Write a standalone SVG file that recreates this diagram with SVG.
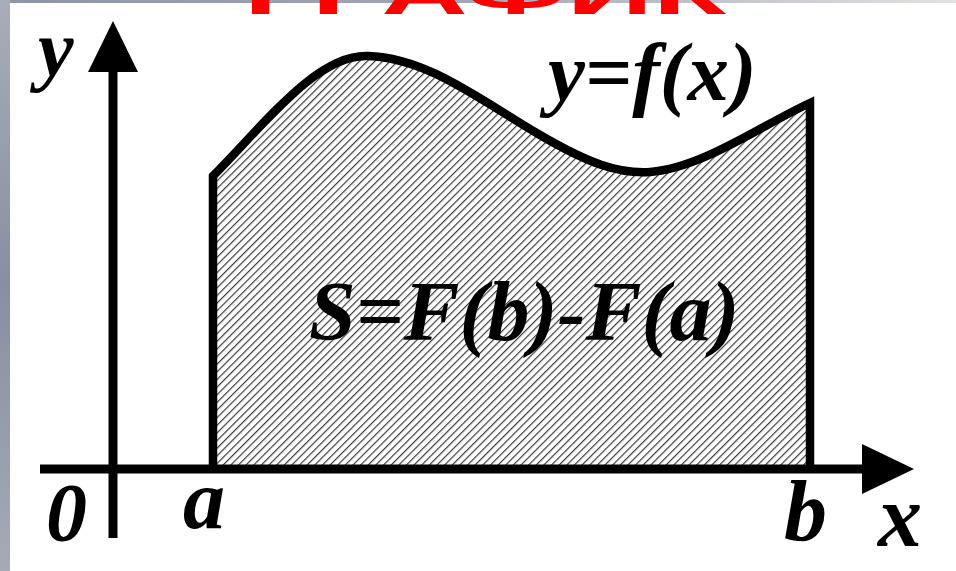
<svg xmlns="http://www.w3.org/2000/svg" width="956" height="571" viewBox="0 0 956 571">
  <defs>
    <linearGradient id="topband" x1="0" y1="0" x2="1" y2="0">
      <stop offset="0" stop-color="#8c94a6"/>
      <stop offset="0.5" stop-color="#a3a8b6"/>
      <stop offset="1" stop-color="#e2e2e4"/>
    </linearGradient>
    <linearGradient id="leftband" x1="0" y1="0" x2="0" y2="1">
      <stop offset="0" stop-color="#a9adb8"/>
      <stop offset="0.5" stop-color="#878fa3"/>
      <stop offset="1" stop-color="#a6aab6"/>
    </linearGradient>
    <pattern id="hatch" patternUnits="userSpaceOnUse" width="5.4" height="10" patternTransform="rotate(45)">
      <line x1="0.6" y1="0" x2="0.6" y2="10" stroke="#333" stroke-width="1.15"/>
    </pattern>
  </defs>
  <style>
    .lbl { font-family: "Liberation Serif", "Times New Roman", serif; font-weight: bold; font-style: italic; fill: #000; }
    .axis { stroke: #000; stroke-width: 9; fill: none; }
    .head { fill: #000; }
    .title { font-family: "Liberation Sans", Arial, sans-serif; font-weight: bold; fill: #ff0000; }
  </style>

  <!-- background -->
  <rect x="0" y="0" width="956" height="571" fill="#ffffff"/>
  <rect x="0" y="0" width="956" height="3" fill="url(#topband)"/>
  <rect x="0" y="0" width="10" height="571" fill="url(#leftband)"/>

  <!-- red title (mostly cut off at the top of the picture) -->
  <g id="title">
    <text class="title" x="485" y="14" font-size="60" text-anchor="middle" textLength="482" lengthAdjust="spacingAndGlyphs">ГРАФИК</text>
  </g>

  <!-- hatched area -->
  <g id="area">
    <path d="M213,176 C268,120 318,54 368,56 C428,58 480,100 540,135 C588,163 618,174 650,172 C702,168 760,126 810,103 L810,468 L213,468 Z" fill="url(#hatch)"/>
    <path d="M213,468 L213,176 C268,120 318,54 368,56 C428,58 480,100 540,135 C588,163 618,174 650,172 C702,168 760,126 810,103 L810,468" fill="none" stroke="#000" stroke-width="8.5" stroke-linejoin="miter"/>
  </g>

  <!-- axes -->
  <g id="connectors">
    <line class="axis" x1="40" y1="469" x2="866" y2="469"/>
    <path class="head" d="M862,444 L914,469 L862,494 Z"/>
    <line class="axis" x1="113" y1="538" x2="113" y2="70"/>
    <path class="head" d="M88,72 L113,21 L138,72 Z"/>
  </g>

  <!-- labels -->
  <g id="labels">
    <text class="lbl" x="38" y="76" font-size="80">y</text>
    <text class="lbl" x="46" y="540" font-size="82">0</text>
    <text class="lbl" x="183" y="528" font-size="84">a</text>
    <text class="lbl" x="784" y="540" font-size="86">b</text>
    <text class="lbl" x="878" y="546" font-size="88">x</text>
    <text class="lbl" x="548" y="100" font-size="83">y=f(x)</text>
    <text class="lbl" x="309" y="340" font-size="84">S=F(b)-F(a)</text>
  </g>
</svg>
